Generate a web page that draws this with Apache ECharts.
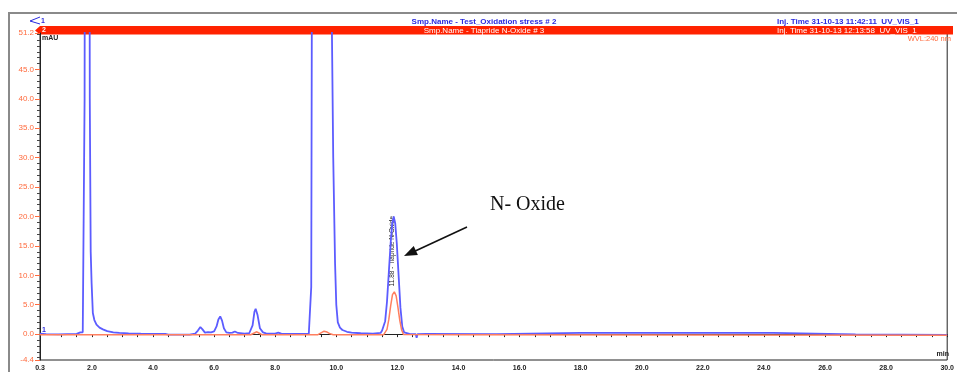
<!DOCTYPE html>
<html>
<head>
<meta charset="utf-8">
<script src="https://cdn.jsdelivr.net/npm/echarts@6/dist/echarts.min.js"></script>
<style>
  html, body { margin: 0; padding: 0; background: #fff; }
  #chart { width: 957px; height: 372px; }
</style>
</head>
<body>
<div id="chart"></div>
<script>
const trazaAzul = [
  [0.3, 0.1], [0.5, 0.0], [0.9, -0.05], [1.2, 0.0], [1.5, 0.05], [1.62, 0.3], [1.7, 0.3], [1.74, 0.5],
  [1.76, 40], [1.78, 120], [1.85, 160], [1.91, 120], [1.93, 40], [1.96, 14], [1.99, 8.6], [2.03, 3.6],
  [2.08, 2.4], [2.15, 1.6], [2.25, 1.1], [2.36, 0.8], [2.5, 0.5], [2.7, 0.3], [2.9, 0.2], [3.2, 0.12],
  [3.6, 0.08], [4.0, 0.05], [4.4, 0.05], [4.5, -0.1], [5.2, -0.1], [5.38, 0.1], [5.47, 0.6], [5.55, 1.2],
  [5.62, 0.8], [5.7, 0.25], [5.8, 0.35], [5.9, 0.3], [6.0, 0.45], [6.08, 1.3], [6.14, 2.5], [6.2, 3.0],
  [6.26, 2.3], [6.32, 1.0], [6.4, 0.3], [6.5, 0.2], [6.6, 0.25], [6.68, 0.45], [6.78, 0.2], [7.0, 0.1],
  [7.15, 0.15], [7.2, 0.3], [7.26, 1.5], [7.32, 3.8], [7.36, 4.3], [7.42, 3.3], [7.5, 1.0], [7.6, 0.3],
  [7.7, 0.12], [8.0, 0.1], [8.1, 0.25], [8.2, 0.1], [8.6, 0.05], [9.1, 0.05], [9.15, 0.3], [9.18, 8],
  [9.2, 55], [9.3, 160], [9.55, 200], [9.8, 160], [9.85, 55], [9.9, 30], [9.96, 12], [10.0, 5],
  [10.05, 2.0], [10.12, 1.1], [10.2, 0.7], [10.35, 0.4], [10.5, 0.25], [10.8, 0.15], [11.2, 0.1],
  [11.45, 0.2], [11.5, 0.6], [11.55, 0.8], [11.6, 2.2], [11.66, 5.5], [11.72, 10.5], [11.78, 15.5],
  [11.83, 18.8], [11.88, 20], [11.93, 18.8], [11.98, 15.5], [12.04, 10], [12.1, 4.5], [12.16, 1.3],
  [12.22, 0.3], [12.4, 0.05], [12.6, 0.0], [12.63, -0.6], [12.66, 0.0], [12.95, 0.05], [13.0, 0.0],
  [15.25, 0.0], [15.3, 0.2], [18.0, 0.2], [20.0, 0.2], [24.3, 0.2], [24.35, 0.0], [27.0, -0.05], [30.0, -0.15]
];

const trazaRoja = [
  [0.3, -0.1], [5.0, -0.1], [7.2, -0.1], [7.28, 0.1], [7.34, 0.35], [7.4, 0.4], [7.48, 0.15], [7.56, -0.1],
  [9.4, -0.1], [9.5, 0.2], [9.6, 0.5], [9.7, 0.35], [9.8, 0.05], [9.9, -0.1], [11.55, -0.1], [11.6, 0.1],
  [11.66, 0.8], [11.72, 2.5], [11.78, 4.8], [11.84, 6.7], [11.9, 7.2], [11.96, 6.5], [12.02, 4.5],
  [12.08, 2.3], [12.14, 0.7], [12.2, -0.05], [12.26, -0.1], [14.05, -0.1], [14.1, 0.2], [14.15, -0.1],
  [30.0, -0.2]
];

// Etiquetas y marcas de los ejes
const etiquetasY = [-4.4, 0, 5, 10, 15, 20, 25, 30, 35, 40, 45, 51.2];
const marcasMenoresY = [-4, -3, -2, -1, 1, 2, 3, 4, 6, 7, 8, 9, 11, 12, 13, 14, 16, 17, 18, 19, 21, 22, 23, 24,
  26, 27, 28, 29, 31, 32, 33, 34, 36, 37, 38, 39, 41, 42, 43, 44, 46, 47, 48, 49, 50, 51];
const etiquetasX = [0.3, 2, 4, 6, 8, 10, 12, 14, 16, 18, 20, 22, 24, 26, 28, 30];
const marcasX = [1, 1.5, 2, 2.5, 3, 3.5, 4, 4.5, 5, 5.5, 6, 6.5, 7, 7.5, 8, 8.5, 9, 9.5, 10, 10.5, 11, 11.5,
  12, 12.5, 13, 13.5, 14, 14.5, 15, 15.5, 16, 16.5, 17, 17.5, 18, 18.5, 19, 19.5, 20, 20.5, 21, 21.5, 22,
  22.5, 23, 23.5, 24, 24.5, 25, 25.5, 26, 26.5, 27, 27.5, 28, 28.5, 29, 29.5, 30];

const picoEtiqueta = [11.84, 14.1];
const textoPico = '11.88 - Tiapride N-Oxide';

const fuente = '"Liberation Sans", Arial, sans-serif';
const naranja = '#ff6a3d';
const azulCab = '#2a2ae0';

const grafico = echarts.init(document.getElementById('chart'));

const opciones = {
  animation: false,
  grid: { left: 40, right: 6, top: 33, bottom: 12, show: true, borderColor: '#222', borderWidth: 1 },
  xAxis: [
    {
      type: 'value', min: 0.3, max: 30,
      axisLine: { lineStyle: { color: '#222' } },
      axisTick: { show: false },
      splitLine: { show: false },
      axisLabel: {
        customValues: etiquetasX, formatter: v => v.toFixed(1),
        fontSize: 7, fontWeight: 'bold', color: '#222', fontFamily: fuente, margin: 5
      }
    },
    {
      type: 'value', min: 0.3, max: 30, position: 'bottom', gridIndex: 0,
      axisLine: { show: false }, axisLabel: { show: false }, splitLine: { show: false },
      axisTick: { customValues: marcasX, length: 3, lineStyle: { color: '#222' } }
    }
  ],
  yAxis: [
    {
      type: 'value', min: -4.4, max: 51.2,
      axisLine: { show: true, lineStyle: { color: '#222' } },
      splitLine: { show: false },
      axisTick: { customValues: etiquetasY, length: 5, lineStyle: { color: naranja } },
      axisLabel: {
        customValues: etiquetasY, formatter: v => v.toFixed(1),
        fontSize: 8, color: naranja, fontFamily: fuente, margin: 6
      }
    },
    {
      type: 'value', min: -4.4, max: 51.2, position: 'left',
      axisLine: { show: false }, axisLabel: { show: false }, splitLine: { show: false },
      axisTick: { customValues: marcasMenoresY, length: 3, lineStyle: { color: '#444' } }
    }
  ],
  series: [
    {
      name: 'Test_Oxidation stress # 2', type: 'line', data: trazaAzul, showSymbol: false,
      lineStyle: { color: '#5c5cff', width: 1.8 }, itemStyle: { color: '#5c5cff' }, clip: true
    },
    {
      name: 'Tiapride N-Oxide # 3', type: 'line', data: trazaRoja, showSymbol: false,
      lineStyle: { color: '#ff7f5f', width: 1.5 }, itemStyle: { color: '#ff7f5f' }, clip: true
    }
  ],
  graphic: [
    // marco exterior
    { type: 'polyline', shape: { points: [[9, 380], [9, 13], [960, 13]] },
      style: { stroke: '#8a8a8a', lineWidth: 2, fill: null } },
    // cabecera azul
    { type: 'polyline', shape: { points: [[40, 17], [30, 21], [40, 24]] },
      style: { stroke: azulCab, lineWidth: 1, fill: null } },
    { type: 'text', x: 41, y: 21, style: { text: '1', fill: azulCab, font: 'bold 7px ' + fuente, verticalAlign: 'middle' } },
    { type: 'text', x: 484, y: 21.5, style: { text: 'Smp.Name - Test_Oxidation stress # 2', fill: azulCab,
      font: 'bold 8px ' + fuente, align: 'center', verticalAlign: 'middle' } },
    { type: 'text', x: 777, y: 21.5, style: { text: 'Inj. Time 31-10-13 11:42:11  UV_VIS_1', fill: azulCab,
      font: 'bold 8px ' + fuente, verticalAlign: 'middle' } },
    // banda roja
    { type: 'polygon', shape: { points: [[35, 30.5], [40, 26], [953, 26], [953, 34.5], [40, 34.5]] },
      style: { fill: '#ff2200' } },
    { type: 'text', x: 42, y: 30.5, style: { text: '2', fill: '#fff', font: 'bold 7px ' + fuente, verticalAlign: 'middle' } },
    { type: 'text', x: 484, y: 30.5, style: { text: 'Smp.Name - Tiapride N-Oxide # 3', fill: '#fff',
      font: '8px ' + fuente, align: 'center', verticalAlign: 'middle' } },
    { type: 'text', x: 777, y: 30.5, style: { text: 'Inj. Time 31-10-13 12:13:58  UV_VIS_1', fill: '#fff',
      font: '8px ' + fuente, verticalAlign: 'middle' } },
    { type: 'text', x: 951, y: 38.5, style: { text: 'WVL:240 nm', fill: naranja,
      font: '7.5px ' + fuente, align: 'right', verticalAlign: 'middle' } },
    { type: 'text', x: 42, y: 38.5, style: { text: 'mAU', fill: '#222', font: 'bold 7px ' + fuente, verticalAlign: 'middle' } },
    { type: 'text', x: 949, y: 354, style: { text: 'min', fill: '#222', font: 'bold 7px ' + fuente, align: 'right', verticalAlign: 'middle' } },
    { type: 'text', x: 42, y: 330, style: { text: '1', fill: azulCab, font: 'bold 7px ' + fuente, verticalAlign: 'middle' } },
    // anotación N- Oxide
    { type: 'text', x: 490, y: 205, style: { text: 'N- Oxide', fill: '#111',
      font: '20px "Liberation Serif", "Times New Roman", serif', verticalAlign: 'middle' } },
    { type: 'line', shape: { x1: 467, y1: 227, x2: 412, y2: 252.5 }, style: { stroke: '#111', lineWidth: 1.6 } },
    { type: 'polygon', shape: { points: [[404, 256], [417.9, 255.1], [413.7, 246.1]] }, style: { fill: '#111' } }
  ]
};

grafico.setOption(opciones);

// Etiqueta vertical del pico, colocada con la escala del gráfico
const p = grafico.convertToPixel({ gridIndex: 0 }, picoEtiqueta);
grafico.setOption({
  graphic: opciones.graphic.concat([
    { type: 'text', x: p[0], y: p[1], rotation: Math.PI / 2,
      style: { text: textoPico, fill: '#222', font: '6.5px ' + fuente, align: 'center', verticalAlign: 'middle' } }
  ])
});
</script>
</body>
</html>
